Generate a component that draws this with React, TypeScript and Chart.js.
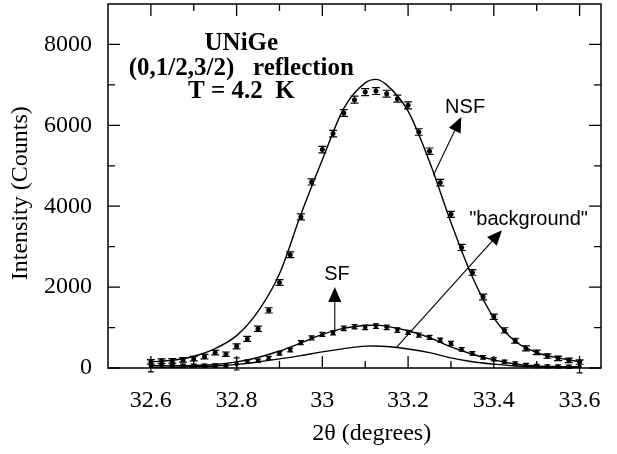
import React, { useEffect, useRef } from "react";
import { Chart, registerables } from "chart.js";

Chart.register(...registerables);

// ---- data ----
const xPoints = [
  32.6, 32.625, 32.65, 32.675, 32.7, 32.725, 32.75, 32.775, 32.8, 32.825,
  32.85, 32.875, 32.9, 32.925, 32.95, 32.975, 33.0, 33.025, 33.05, 33.075,
  33.1, 33.125, 33.15, 33.175, 33.2, 33.225, 33.25, 33.275, 33.3, 33.325,
  33.35, 33.375, 33.4, 33.425, 33.45, 33.475, 33.5, 33.525, 33.55, 33.575, 33.6,
];
const nsfCounts = [
  150, 170, 175, 200, 230, 280, 380, 340, 535, 720,
  970, 1425, 2115, 2800, 3735, 4600, 5400, 5795, 6305, 6635,
  6822, 6847, 6783, 6660, 6494, 5835, 5360, 4585, 3800, 2980,
  2363, 1755, 1267, 930, 675, 485, 387, 296, 239, 190, 148,
];
const nsfErrors = [
  55, 55, 55, 55, 55, 55, 55, 55, 60, 60,
  65, 65, 70, 70, 75, 75, 80, 80, 85, 85,
  85, 85, 85, 85, 85, 80, 80, 80, 75, 75,
  70, 70, 65, 65, 60, 60, 55, 55, 55, 55, 55,
];
const sfCounts = [
  55, 55, 55, 55, 55, 55, 60, 60, 100, 157,
  180, 245, 362, 445, 625, 745, 830, 870, 980, 1020,
  1005, 1037, 1005, 938, 880, 815, 757, 691, 610, 460,
  362, 264, 215, 156, 115, 74, 50, 40, 35, 30, 30,
];
const sfErrors = [
  150, 40, 40, 40, 40, 40, 40, 40, 150, 40,
  40, 40, 45, 45, 50, 50, 50, 50, 55, 55,
  55, 55, 55, 55, 50, 50, 50, 50, 50, 45,
  45, 45, 40, 40, 40, 40, 40, 40, 40, 40, 150,
];
const fitX = [
  32.6, 32.65, 32.7, 32.75, 32.8, 32.85, 32.9, 32.95, 33.0, 33.05,
  33.1, 33.125, 33.15, 33.2, 33.25, 33.3, 33.35, 33.4, 33.45, 33.5, 33.55, 33.6,
];
const nsfFit = [
  155, 190, 290, 480, 800, 1400, 2330, 3800, 5150, 6420,
  7050, 7136, 7000, 6350, 5100, 3600, 2250, 1240, 660, 380, 250, 155,
];
const sfFit = [
  55, 58, 65, 85, 150, 260, 420, 620, 830, 980,
  1050, 1060, 1030, 920, 750, 520, 340, 200, 100, 50, 35, 30,
];
const backgroundFit = [
  15, 20, 30, 50, 90, 150, 225, 305, 400, 480,
  540, 545, 530, 470, 380, 250, 155, 95, 50, 25, 15, 10,
];
const xTickLabels = [32.6, 32.8, 33, 33.2, 33.4, 33.6];
const xMinorTicks = [32.7, 32.9, 33.1, 33.3, 33.5];
const yTickLabels = [0, 2000, 4000, 6000, 8000];
const yMinorTicks = [1000, 3000, 5000, 7000];

const xAxisTitle = "2\u03B8 (degrees)";
const yAxisTitle = "Intensity (Counts)";
const titleLines = ["UNiGe", "(0,1/2,3/2)   reflection", "T = 4.2  K"];
const titleAnchors = [
  [32.811, 8025],
  [32.811, 7407],
  [32.811, 6839],
];
const arrowLabels = ["NSF", '"background"', "SF"];
const arrowLabelAnchors = [
  [33.333, 6432],
  [33.481, 3679],
  [33.034, 2321],
];
const arrowLines = [
  [33.259, 4765, 33.324, 6205],
  [33.173, 511, 33.419, 3407],
  [33.029, 938, 33.029, 2000],
];

const SERIF = "'Liberation Serif', 'Times New Roman', serif";
const SANS = "'Liberation Sans', Arial, sans-serif";

function drawArrow(ctx: CanvasRenderingContext2D, x0: number, y0: number, x1: number, y1: number) {
  const ang = Math.atan2(y1 - y0, x1 - x0);
  const len = 15;
  const half = 6.5;
  const bx = x1 - len * Math.cos(ang);
  const by = y1 - len * Math.sin(ang);
  ctx.beginPath();
  ctx.moveTo(x0, y0);
  ctx.lineTo(bx, by);
  ctx.lineWidth = 1.1;
  ctx.stroke();
  ctx.beginPath();
  ctx.moveTo(x1, y1);
  ctx.lineTo(bx + half * Math.sin(ang), by - half * Math.cos(ang));
  ctx.lineTo(bx - half * Math.sin(ang), by + half * Math.cos(ang));
  ctx.closePath();
  ctx.fill();
}

const decorPlugin = {
  id: "decor",
  afterDatasetsDraw(chart: any) {
    const { ctx, chartArea: a, scales } = chart;
    const xs = scales.x;
    const ys = scales.y;
    ctx.save();
    ctx.strokeStyle = "#000";
    ctx.fillStyle = "#000";

    // error bars
    const drawErr = (vals: number[], errs: number[], cap: number) => {
      ctx.lineWidth = 1.2;
      for (let i = 0; i < xPoints.length; i++) {
        const px = xs.getPixelForValue(xPoints[i]);
        const pTop = ys.getPixelForValue(vals[i] + errs[i]);
        const pBot = ys.getPixelForValue(vals[i] - errs[i]);
        ctx.beginPath();
        ctx.moveTo(px, pTop);
        ctx.lineTo(px, pBot);
        ctx.moveTo(px - cap / 2, pTop);
        ctx.lineTo(px + cap / 2, pTop);
        ctx.moveTo(px - cap / 2, pBot);
        ctx.lineTo(px + cap / 2, pBot);
        ctx.stroke();
      }
    };
    drawErr(nsfCounts, nsfErrors, 8);
    drawErr(sfCounts, sfErrors, 6);

    // frame
    ctx.lineWidth = 1.5;
    ctx.strokeRect(a.left, a.top, a.right - a.left, a.bottom - a.top);

    // inward ticks
    ctx.lineWidth = 1.3;
    const xt = (v: number, l: number) => {
      const px = xs.getPixelForValue(v);
      ctx.beginPath();
      ctx.moveTo(px, a.bottom);
      ctx.lineTo(px, a.bottom - l);
      ctx.moveTo(px, a.top);
      ctx.lineTo(px, a.top + l);
      ctx.stroke();
    };
    const yt = (v: number, l: number) => {
      const py = ys.getPixelForValue(v);
      ctx.beginPath();
      ctx.moveTo(a.left, py);
      ctx.lineTo(a.left + l, py);
      ctx.moveTo(a.right, py);
      ctx.lineTo(a.right - l, py);
      ctx.stroke();
    };
    xTickLabels.forEach((v) => xt(v, 12));
    xMinorTicks.forEach((v) => xt(v, 7));
    yTickLabels.forEach((v) => yt(v, 12));
    yMinorTicks.forEach((v) => yt(v, 7));

    // axis titles
    ctx.textAlign = "center";
    ctx.textBaseline = "middle";
    ctx.font = `24px ${SERIF}`;
    ctx.fillText(xAxisTitle, a.left + (a.right - a.left) * 0.535, a.bottom + 66);
    ctx.save();
    ctx.translate(21, a.top + (a.bottom - a.top) * 0.52);
    ctx.rotate(-Math.PI / 2);
    ctx.fillText(yAxisTitle, 0, 0);
    ctx.restore();

    // title text
    ctx.font = `bold 25px ${SERIF}`;
    titleLines.forEach((t, i) => {
      ctx.fillText(t, xs.getPixelForValue(titleAnchors[i][0]), ys.getPixelForValue(titleAnchors[i][1]));
    });

    // arrows
    arrowLines.forEach((l) => {
      drawArrow(ctx, xs.getPixelForValue(l[0]), ys.getPixelForValue(l[1]), xs.getPixelForValue(l[2]), ys.getPixelForValue(l[3]));
    });
    ctx.font = `20px ${SANS}`;
    arrowLabels.forEach((t, i) => {
      ctx.fillText(t, xs.getPixelForValue(arrowLabelAnchors[i][0]), ys.getPixelForValue(arrowLabelAnchors[i][1]));
    });
    ctx.restore();
  },
};

export default function App() {
  const ref = useRef<HTMLCanvasElement | null>(null);
  useEffect(() => {
    if (!ref.current) return;
    const line = (vals: number[]) => ({
      data: fitX.map((x, i) => ({ x, y: vals[i] })),
      showLine: true,
      pointRadius: 0,
      borderColor: "#000",
      borderWidth: 1.4,
      cubicInterpolationMode: "monotone" as const,
    });
    const pts = (vals: number[], r: number) => ({
      data: xPoints.map((x, i) => ({ x, y: vals[i] })),
      showLine: false,
      pointRadius: r,
      pointBorderWidth: 0,
      pointBackgroundColor: "#000",
      pointBorderColor: "#000",
    });
    const chart = new Chart(ref.current, {
      type: "scatter",
      data: {
        datasets: [line(nsfFit), line(sfFit), line(backgroundFit), pts(nsfCounts, 2.5), pts(sfCounts, 2.2)] as any,
      },
      options: {
        animation: false,
        responsive: false,
        devicePixelRatio: 1,
        layout: { padding: { top: 3, right: 16, left: 0, bottom: 0 } },
        plugins: { legend: { display: false }, tooltip: { enabled: false } },
        scales: {
          x: {
            type: "linear",
            min: 32.5,
            max: 33.65,
            grid: { display: false, drawTicks: false },
            border: { display: false },
            afterFit: (s: any) => {
              s.height = 86;
              s.paddingLeft = 0;
              s.paddingRight = 0;
            },
            afterBuildTicks: (s: any) => {
              s.ticks = xTickLabels.map((v) => ({ value: v }));
            },
            ticks: {
              color: "#000",
              padding: 18,
              font: { family: SERIF, size: 24 },
              maxRotation: 0,
              autoSkip: false,
              callback: (v: any) => String(Math.round(Number(v) * 10) / 10),
            },
          },
          y: {
            type: "linear",
            min: 0,
            max: 9000,
            grid: { display: false, drawTicks: false },
            border: { display: false },
            afterFit: (s: any) => {
              s.width = 108;
              s.paddingTop = 0;
              s.paddingBottom = 0;
            },
            afterBuildTicks: (s: any) => {
              s.ticks = yTickLabels.map((v) => ({ value: v }));
            },
            ticks: {
              color: "#000",
              padding: 16,
              font: { family: SERIF, size: 24 },
              autoSkip: false,
              callback: (v: any) => String(v),
            },
          },
        },
      },
      plugins: [decorPlugin],
    } as any);
    return () => chart.destroy();
  }, []);
  return (
    <div style={{ position: "fixed", left: 0, top: 0, width: 617, height: 454, background: "#fff" }}>
      <canvas ref={ref} width={617} height={454} style={{ width: 617, height: 454 }} />
    </div>
  );
}
